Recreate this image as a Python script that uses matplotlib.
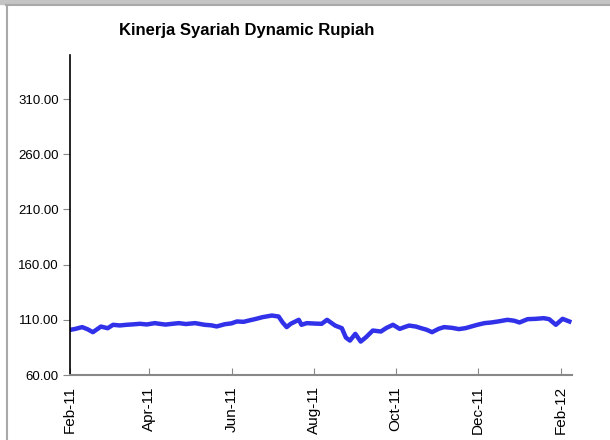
import numpy as np
import pandas as pd
import matplotlib
matplotlib.use('Agg')
import matplotlib.pyplot as plt
import matplotlib.dates as mdates
from matplotlib.patches import Rectangle
from matplotlib.lines import Line2D

plt.rcParams['font.family'] = ['Liberation Sans', 'DejaVu Sans']

# nilai NAB (perkiraan dari gambar)
dates = ['2011-02-01', '2011-02-05', '2011-02-10', '2011-02-14', '2011-02-18',
         '2011-02-24', '2011-03-01', '2011-03-05', '2011-03-10', '2011-03-15',
         '2011-03-20', '2011-03-25', '2011-03-30', '2011-04-05', '2011-04-09',
         '2011-04-13', '2011-04-18', '2011-04-23', '2011-04-28', '2011-05-05',
         '2011-05-12', '2011-05-17', '2011-05-21', '2011-05-27', '2011-06-01',
         '2011-06-05', '2011-06-10', '2011-06-14', '2011-06-19', '2011-06-24',
         '2011-07-01', '2011-07-06', '2011-07-09', '2011-07-12', '2011-07-15',
         '2011-07-21', '2011-07-23', '2011-07-27', '2011-08-02', '2011-08-07',
         '2011-08-11', '2011-08-17', '2011-08-22', '2011-08-25', '2011-08-28',
         '2011-09-01', '2011-09-05', '2011-09-09', '2011-09-14', '2011-09-20',
         '2011-09-24', '2011-09-29', '2011-10-04', '2011-10-08', '2011-10-11',
         '2011-10-16', '2011-10-20', '2011-10-24', '2011-10-28', '2011-11-02',
         '2011-11-06', '2011-11-12', '2011-11-17', '2011-11-22', '2011-11-26',
         '2011-12-01', '2011-12-06', '2011-12-11', '2011-12-16', '2011-12-23',
         '2011-12-28', '2012-01-01', '2012-01-07', '2012-01-13', '2012-01-19',
         '2012-01-23', '2012-01-28', '2012-02-02', '2012-02-07']
values = [100.9, 101.8, 103.4, 101.5, 98.8,
          103.9, 102.4, 105.5, 104.9, 105.5,
          105.9, 106.4, 105.8, 107.0, 106.3,
          105.7, 106.4, 107.0, 106.2, 107.0,
          105.5, 105.0, 104.0, 106.0, 106.8,
          108.5, 108.2, 109.4, 110.8, 112.4,
          113.9, 113.0, 107.6, 103.4, 106.4,
          110.0, 105.5, 107.0, 106.6, 106.4,
          110.0, 104.8, 102.4, 93.9, 91.2,
          97.3, 90.3, 94.3, 100.3, 99.4,
          102.6, 105.5, 101.8, 103.6, 104.8,
          103.9, 102.4, 101.0, 98.8, 101.9,
          103.4, 102.7, 101.6, 102.5, 103.9,
          105.6, 107.0, 107.6, 108.5, 110.0,
          109.2, 107.6, 110.6, 110.9, 111.5,
          110.6, 105.5, 110.9, 108.5]
x_ticks = ['2011-02-01', '2011-04-01', '2011-06-01', '2011-08-01',
           '2011-10-01', '2011-12-01', '2012-02-01']
y_ticks = [60, 110, 160, 210, 260, 310]

dates = pd.to_datetime(dates)

fig = plt.figure(figsize=(6.1, 4.4), dpi=100)

# bingkai abu-abu
fig.patches.append(Rectangle((0, 1 - 4 / 440), 1, 4 / 440, transform=fig.transFigure,
                             color='#c4c4c4', zorder=0))
fig.lines.append(Line2D([6 / 610, 1], [1 - 5.5 / 440, 1 - 5.5 / 440],
                        transform=fig.transFigure, color='#a8a8a8', lw=1.5))
fig.lines.append(Line2D([6.5 / 610, 6.5 / 610], [0, 1 - 5 / 440],
                        transform=fig.transFigure, color='#a8a8a8', lw=1.5))

ax = fig.add_axes([70 / 610, 1 - 375 / 440, 502 / 610, 320 / 440])
ax.plot(dates, values, color='#3131ea', lw=3.2, solid_joinstyle='round')

ax.set_ylim(60, 350)
ax.set_yticks(y_ticks)
ax.set_yticklabels([f'{v:.2f}' for v in y_ticks], fontsize=9.5)
ax.set_xlim(pd.Timestamp('2011-02-01'), pd.Timestamp('2012-02-09'))
ax.set_xticks(pd.to_datetime(x_ticks))
ax.xaxis.set_major_formatter(mdates.DateFormatter('%b-%y'))
plt.setp(ax.get_xticklabels(), rotation=90, fontsize=11)

ax.spines['top'].set_visible(False)
ax.spines['right'].set_visible(False)
ax.spines['left'].set_color('black')
ax.spines['left'].set_linewidth(1.2)
ax.spines['bottom'].set_color('#888888')
ax.spines['bottom'].set_linewidth(1.5)
ax.tick_params(axis='y', direction='out', length=5, color='#888888', pad=3)
ax.tick_params(axis='x', direction='in', length=5, color='#888888', pad=8)

fig.text(247 / 610, 1 - 30 / 440, 'Kinerja Syariah Dynamic Rupiah', ha='center',
         va='center', fontsize=12, fontweight='bold')

plt.savefig('out.png', dpi=100)
